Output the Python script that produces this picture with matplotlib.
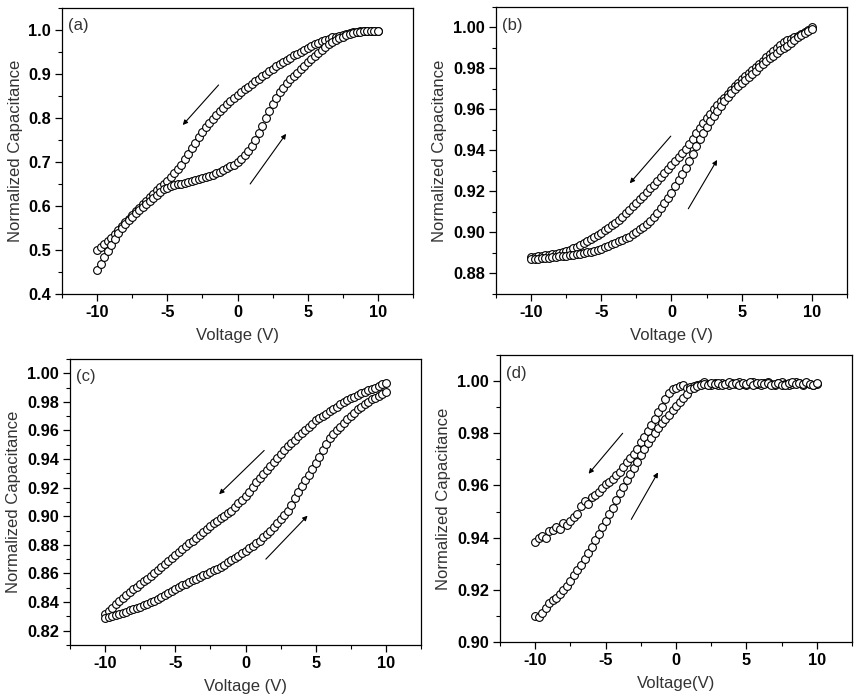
import matplotlib
matplotlib.use("Agg")
import matplotlib.pyplot as plt
from matplotlib.ticker import MultipleLocator, FormatStrFormatter

plt.rcParams['font.family'] = ['Liberation Sans', 'DejaVu Sans']

# Voltage sweep points (V)
voltage = [-10.0, -9.75, -9.5, -9.25, -9.0, -8.75, -8.5, -8.25, -8.0, -7.75,
           -7.5, -7.25, -7.0, -6.75, -6.5, -6.25, -6.0, -5.75, -5.5, -5.25,
           -5.0, -4.75, -4.5, -4.25, -4.0, -3.75, -3.5, -3.25, -3.0, -2.75,
           -2.5, -2.25, -2.0, -1.75, -1.5, -1.25, -1.0, -0.75, -0.5, -0.25,
           0.0, 0.25, 0.5, 0.75, 1.0, 1.25, 1.5, 1.75, 2.0, 2.25,
           2.5, 2.75, 3.0, 3.25, 3.5, 3.75, 4.0, 4.25, 4.5, 4.75,
           5.0, 5.25, 5.5, 5.75, 6.0, 6.25, 6.5, 6.75, 7.0, 7.25,
           7.5, 7.75, 8.0, 8.25, 8.5, 8.75, 9.0, 9.25, 9.5, 9.75, 10.0]

# (a) forward sweep (-10 -> 10) and reverse sweep (10 -> -10), both listed by ascending voltage
a_fwd = [0.454, 0.468, 0.484, 0.498, 0.512, 0.526, 0.538, 0.550, 0.560, 0.568,
         0.576, 0.583, 0.590, 0.597, 0.604, 0.611, 0.618, 0.625, 0.632, 0.638,
         0.642, 0.645, 0.647, 0.649, 0.651, 0.653, 0.655, 0.657, 0.659, 0.661,
         0.663, 0.666, 0.668, 0.671, 0.674, 0.678, 0.682, 0.686, 0.690, 0.694,
         0.699, 0.707, 0.716, 0.726, 0.737, 0.750, 0.766, 0.782, 0.800, 0.816,
         0.831, 0.845, 0.858, 0.869, 0.880, 0.888, 0.896, 0.903, 0.911, 0.919,
         0.927, 0.934, 0.941, 0.948, 0.955, 0.961, 0.967, 0.972, 0.977, 0.981,
         0.985, 0.988, 0.991, 0.993, 0.995, 0.996, 0.997, 0.998, 0.998, 0.998, 0.998]
a_rev = [0.500, 0.507, 0.514, 0.521, 0.528, 0.536, 0.545, 0.554, 0.563, 0.571,
         0.580, 0.588, 0.596, 0.604, 0.612, 0.620, 0.628, 0.636, 0.643, 0.650,
         0.657, 0.665, 0.674, 0.684, 0.694, 0.706, 0.718, 0.731, 0.744, 0.757,
         0.769, 0.779, 0.789, 0.798, 0.807, 0.815, 0.823, 0.831, 0.839, 0.846,
         0.853, 0.859, 0.865, 0.871, 0.877, 0.883, 0.889, 0.895, 0.901, 0.906,
         0.911, 0.917, 0.922, 0.927, 0.932, 0.937, 0.942, 0.946, 0.951, 0.955,
         0.959, 0.963, 0.967, 0.971, 0.974, 0.977, 0.980, 0.983, 0.985, 0.987,
         0.989, 0.991, 0.993, 0.995, 0.996, 0.997, 0.998, 0.998, 0.998, 0.998, 0.998]

# (b)
b_fwd = [0.8870, 0.8872, 0.8873, 0.8875, 0.8876, 0.8878, 0.8880, 0.8881, 0.8883, 0.8885,
         0.8887, 0.8889, 0.8891, 0.8893, 0.8895, 0.8899, 0.8903, 0.8907, 0.8912, 0.8916,
         0.8920, 0.8927, 0.8934, 0.8942, 0.8950, 0.8957, 0.8965, 0.8972, 0.8980, 0.8991,
         0.9002, 0.9015, 0.9028, 0.9043, 0.9058, 0.9075, 0.9095, 0.9118, 0.9143, 0.9168,
         0.9195, 0.9225, 0.9255, 0.9285, 0.9317, 0.9350, 0.9385, 0.9420, 0.9455, 0.9485,
         0.9515, 0.9545, 0.9570, 0.9595, 0.9617, 0.9640, 0.9660, 0.9680, 0.9698, 0.9715,
         0.9730, 0.9745, 0.9760, 0.9775, 0.9790, 0.9805, 0.9820, 0.9835, 0.9850, 0.9862,
         0.9875, 0.9888, 0.9900, 0.9912, 0.9925, 0.9940, 0.9952, 0.9962, 0.9972, 0.9985, 0.9995]
b_rev = [0.8880, 0.8882, 0.8884, 0.8886, 0.8889, 0.8891, 0.8894, 0.8897, 0.8900, 0.8905,
         0.8910, 0.8915, 0.8922, 0.8930, 0.8940, 0.8950, 0.8958, 0.8967, 0.8978, 0.8988,
         0.8999, 0.9010, 0.9022, 0.9035, 0.9048, 0.9063, 0.9078, 0.9094, 0.9110, 0.9127,
         0.9145, 0.9162, 0.9180, 0.9197, 0.9215, 0.9232, 0.9250, 0.9270, 0.9290, 0.9310,
         0.9330, 0.9350, 0.9370, 0.9388, 0.9406, 0.9432, 0.9458, 0.9484, 0.9510, 0.9535,
         0.9558, 0.9580, 0.9600, 0.9620, 0.9640, 0.9658, 0.9676, 0.9695, 0.9713, 0.9731,
         0.9750, 0.9764, 0.9778, 0.9792, 0.9806, 0.9822, 0.9838, 0.9854, 0.9870, 0.9885,
         0.9900, 0.9915, 0.9930, 0.9938, 0.9946, 0.9953, 0.9960, 0.9970, 0.9980, 0.9990, 1.0000]

# (c)
c_fwd = [0.8290, 0.8298, 0.8306, 0.8312, 0.8318, 0.8326, 0.8334, 0.8342, 0.8350, 0.8359,
         0.8368, 0.8378, 0.8388, 0.8399, 0.8410, 0.8422, 0.8434, 0.8448, 0.8462, 0.8477,
         0.8493, 0.8505, 0.8517, 0.8528, 0.8540, 0.8552, 0.8564, 0.8575, 0.8587, 0.8598,
         0.8610, 0.8622, 0.8634, 0.8648, 0.8662, 0.8677, 0.8692, 0.8708, 0.8724, 0.8742,
         0.8760, 0.8777, 0.8794, 0.8812, 0.8830, 0.8852, 0.8875, 0.8900, 0.8927, 0.8955,
         0.8983, 0.9012, 0.9040, 0.9082, 0.9125, 0.9167, 0.9210, 0.9250, 0.9290, 0.9330,
         0.9370, 0.9415, 0.9460, 0.9505, 0.9548, 0.9575, 0.9600, 0.9627, 0.9653, 0.9677,
         0.9700, 0.9723, 0.9747, 0.9765, 0.9782, 0.9800, 0.9817, 0.9830, 0.9843, 0.9857, 0.9870]
c_rev = [0.8317, 0.8340, 0.8360, 0.8385, 0.8410, 0.8430, 0.8450, 0.8470, 0.8490, 0.8508,
         0.8526, 0.8545, 0.8563, 0.8583, 0.8604, 0.8625, 0.8645, 0.8666, 0.8687, 0.8708,
         0.8730, 0.8750, 0.8770, 0.8790, 0.8810, 0.8830, 0.8850, 0.8870, 0.8890, 0.8910,
         0.8930, 0.8950, 0.8970, 0.8987, 0.9005, 0.9022, 0.9040, 0.9065, 0.9090, 0.9115,
         0.9140, 0.9172, 0.9205, 0.9237, 0.9270, 0.9298, 0.9325, 0.9353, 0.9380, 0.9408,
         0.9435, 0.9463, 0.9490, 0.9512, 0.9535, 0.9558, 0.9580, 0.9602, 0.9625, 0.9648,
         0.9670, 0.9686, 0.9702, 0.9718, 0.9735, 0.9751, 0.9767, 0.9783, 0.9800, 0.9812,
         0.9825, 0.9837, 0.9850, 0.9860, 0.9870, 0.9880, 0.9890, 0.9900, 0.9910, 0.9922, 0.9934]

# (d)
d_fwd = [0.9100, 0.9095, 0.9110, 0.9130, 0.9150, 0.9160, 0.9170, 0.9185, 0.9200, 0.9215,
         0.9235, 0.9255, 0.9275, 0.9295, 0.9318, 0.9342, 0.9365, 0.9390, 0.9415, 0.9440,
         0.9465, 0.9490, 0.9515, 0.9545, 0.9570, 0.9595, 0.9620, 0.9645, 0.9668, 0.9690,
         0.9715, 0.9740, 0.9763, 0.9782, 0.9800, 0.9820, 0.9840, 0.9855, 0.9870, 0.9888,
         0.9904, 0.9920, 0.9935, 0.9952, 0.9968, 0.9975, 0.9980, 0.9985, 0.9990, 0.9985,
         0.9992, 0.9988, 0.9994, 0.9986, 0.9990, 0.9995, 0.9988, 0.9992, 0.9986, 0.9993,
         0.9989, 0.9995, 0.9987, 0.9991, 0.9994, 0.9988, 0.9992, 0.9986, 0.9990, 0.9993,
         0.9987, 0.9985, 0.9992, 0.9996, 0.9990, 0.9993, 0.9988, 0.9995, 0.9990, 0.9987, 0.9992]
d_rev = [0.9385, 0.9400, 0.9408, 0.9400, 0.9425, 0.9430, 0.9440, 0.9435, 0.9455, 0.9450,
         0.9465, 0.9480, 0.9490, 0.9520, 0.9540, 0.9530, 0.9555, 0.9565, 0.9575, 0.9590,
         0.9605, 0.9615, 0.9625, 0.9640, 0.9650, 0.9670, 0.9690, 0.9705, 0.9720, 0.9740,
         0.9765, 0.9785, 0.9808, 0.9830, 0.9855, 0.9880, 0.9900, 0.9930, 0.9955, 0.9970,
         0.9975, 0.9980, 0.9985, 0.9975, 0.9978, 0.9982, 0.9986, 0.9990, 0.9995, 0.9988,
         0.9984, 0.9991, 0.9987, 0.9994, 0.9989, 0.9985, 0.9993, 0.9988, 0.9996, 0.9990,
         0.9986, 0.9992, 0.9997, 0.9989, 0.9985, 0.9993, 0.9998, 0.9990, 0.9986, 0.9992,
         0.9995, 0.9988, 0.9984, 0.9990, 0.9998, 0.9992, 0.9987, 0.9994, 0.9990, 0.9985, 0.9990]

panel_labels = ["(a)", "(b)", "(c)", "(d)"]
x_labels = ["Voltage (V)", "Voltage (V)", "Voltage (V)", "Voltage(V)"]
y_label = "Normalized Capacitance"

# axes rectangles in figure fractions (left, bottom, width, height)
rects = [(0.0722, 0.5794, 0.4086, 0.4092),
         (0.5774, 0.5794, 0.4086, 0.4106),
         (0.0815, 0.0773, 0.4086, 0.4092),
         (0.5821, 0.0815, 0.4098, 0.4106)]
ylims = [(0.4, 1.05), (0.87, 1.01), (0.81, 1.01), (0.90, 1.01)]
ymajor = [0.1, 0.02, 0.02, 0.02]
yminor = [0.05, 0.01, 0.01, 0.01]
yfmt = ["%.1f", "%.2f", "%.2f", "%.2f"]
series = [(a_fwd, a_rev), (b_fwd, b_rev), (c_fwd, c_rev), (d_fwd, d_rev)]
# arrows: (reverse-arrow tail, head), (forward-arrow tail, head)
arrows = [(((-1.35, 0.875), (-3.9, 0.784)), ((0.9, 0.650), (3.46, 0.764))),
          (((-0.05, 0.947), (-2.97, 0.924)), ((1.2, 0.9116), (3.25, 0.9354))),
          (((1.33, 0.946), (-1.88, 0.9154)), ((1.45, 0.870), (4.42, 0.9004))),
          (((-3.79, 0.980), (-6.21, 0.9645)), ((-3.18, 0.947), (-1.28, 0.965)))]

fig = plt.figure(figsize=(8.59, 6.99), dpi=100)
fig.patch.set_facecolor('white')

for i in range(4):
    ax = fig.add_axes(rects[i])
    fwd, rev = series[i]
    ax.plot(voltage, rev, linestyle='none', marker='o', ms=5.6, mfc='white',
            mec='black', mew=0.8)
    ax.plot(voltage, fwd, linestyle='none', marker='o', ms=5.6, mfc='white',
            mec='black', mew=0.8)
    ax.set_xlim(-12.5, 12.5)
    ax.set_ylim(*ylims[i])
    ax.xaxis.set_major_locator(MultipleLocator(5))
    ax.xaxis.set_minor_locator(MultipleLocator(2.5))
    ax.yaxis.set_major_locator(MultipleLocator(ymajor[i]))
    ax.yaxis.set_minor_locator(MultipleLocator(yminor[i]))
    ax.yaxis.set_major_formatter(FormatStrFormatter(yfmt[i]))
    ax.xaxis.set_major_formatter(FormatStrFormatter("%d"))
    ax.tick_params(which='major', direction='out', length=5, width=0.9,
                   top=False, right=False, labelsize=11.8, pad=3)
    ax.tick_params(which='minor', direction='out', length=3, width=0.8,
                   top=False, right=False)
    for lab in ax.get_xticklabels() + ax.get_yticklabels():
        lab.set_fontweight('bold')
    for sp in ax.spines.values():
        sp.set_linewidth(0.9)
    ax.set_xlabel(x_labels[i], fontsize=12, color='#333333', labelpad=6)
    ax.set_ylabel(y_label, fontsize=12, color='#333333', labelpad=4)
    ax.text(0.017, 0.937, panel_labels[i], transform=ax.transAxes, ha='left',
            va='center', fontsize=12, color='#333333')
    for (tail, head) in arrows[i]:
        ax.annotate("", xy=head, xytext=tail,
                    arrowprops=dict(arrowstyle='-|>', lw=0.8, color='black',
                                    mutation_scale=7, shrinkA=0, shrinkB=0))

fig.savefig("out.png", dpi=100, facecolor='white')
